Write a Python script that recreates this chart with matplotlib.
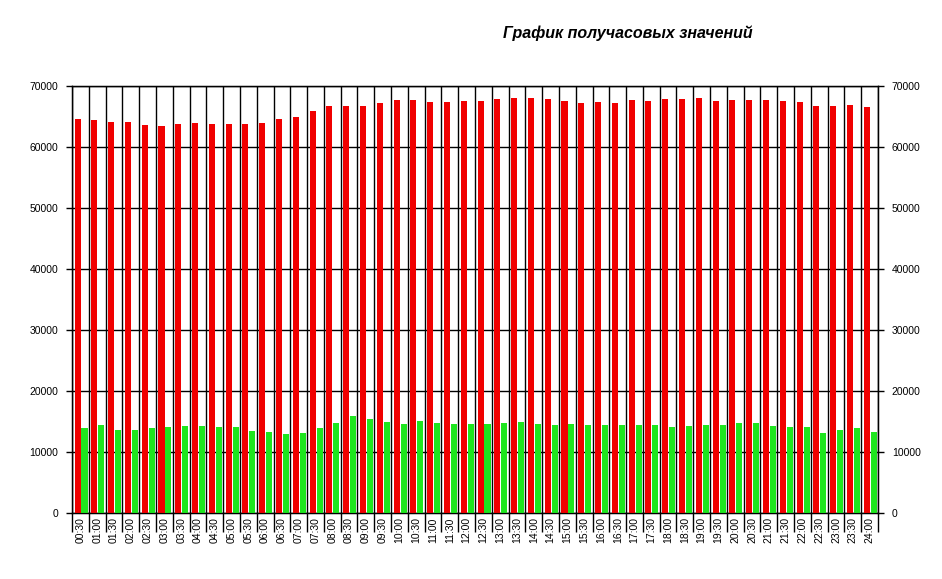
import numpy as np
import matplotlib
matplotlib.use("Agg")
import matplotlib.pyplot as plt

plt.rcParams['font.family'] = ['Liberation Sans', 'DejaVu Sans']

times = ["00:30", "01:00", "01:30", "02:00", "02:30", "03:00", "03:30", "04:00",
         "04:30", "05:00", "05:30", "06:00", "06:30", "07:00", "07:30", "08:00",
         "08:30", "09:00", "09:30", "10:00", "10:30", "11:00", "11:30", "12:00",
         "12:30", "13:00", "13:30", "14:00", "14:30", "15:00", "15:30", "16:00",
         "16:30", "17:00", "17:30", "18:00", "18:30", "19:00", "19:30", "20:00",
         "20:30", "21:00", "21:30", "22:00", "22:30", "23:00", "23:30", "24:00"]

red_vals = [64600, 64450, 64100, 64100, 63600, 63450, 63800, 63950,
            63800, 63800, 63800, 63950, 64600, 64950, 65900, 66750,
            66750, 66750, 67250, 67700, 67700, 67400, 67400, 67550,
            67550, 67900, 68050, 68050, 67900, 67550, 67250, 67400,
            67250, 67700, 67550, 67900, 67900, 68050, 67550, 67700,
            67700, 67700, 67550, 67400, 66750, 66750, 66900, 66600]

green_vals = [14000, 14500, 13650, 13650, 14000, 14150, 14300, 14300,
              14150, 14150, 13500, 13330, 13000, 13160, 14000, 14800,
              15950, 15460, 14970, 14640, 15130, 14800, 14640, 14640,
              14640, 14800, 14970, 14640, 14480, 14640, 14480, 14480,
              14480, 14480, 14480, 14150, 14300, 14480, 14480, 14800,
              14800, 14300, 14150, 14150, 13160, 13650, 14000, 13330]

fig = plt.figure(figsize=(9.42, 5.79), dpi=100)
ax = fig.add_axes([72/942, 66/579, 806/942, 427/579])

x = np.arange(len(times))
ax.bar(x + 0.15, red_vals, width=0.36, align='edge', color='#f00000', zorder=3)
ax.bar(x + 0.565, green_vals, width=0.36, align='edge', color='#1ee61e', zorder=3)

ax.set_xlim(0, len(times))
ax.set_ylim(0, 70000)
yt = np.arange(0, 70001, 10000)
ax.set_yticks(yt)
ax.set_yticklabels([str(v) for v in yt], fontsize=7.5)

# category boundaries as major ticks (grid), labels on minor ticks
ax.set_xticks(np.arange(0, len(times) + 1))
ax.set_xticklabels([])
ax.set_xticks(x + 0.5, minor=True)
ax.set_xticklabels(times, minor=True, rotation=90, fontsize=7.5)
ax.tick_params(axis='x', which='major', length=14, width=1, color='black')
ax.tick_params(axis='x', which='minor', length=0, pad=3)
ax.tick_params(axis='y', length=4, width=1, pad=6)

ax.grid(True, which='major', color='black', linewidth=1, zorder=1)
ax.set_axisbelow(True)
for s in ax.spines.values():
    s.set_color('black')
    s.set_linewidth(1)

ax2 = ax.twinx()
ax2.set_ylim(0, 70000)
ax2.set_yticks(yt)
ax2.set_yticklabels([str(v) for v in yt], fontsize=7.5)
ax2.tick_params(axis='y', length=4, width=1, pad=6)

fig.text(628/942, 1 - 33/579, "График получасовых значений", ha='center', va='center',
         fontsize=11.5, fontweight='bold', fontstyle='italic')

fig.savefig("out.png", dpi=100)
